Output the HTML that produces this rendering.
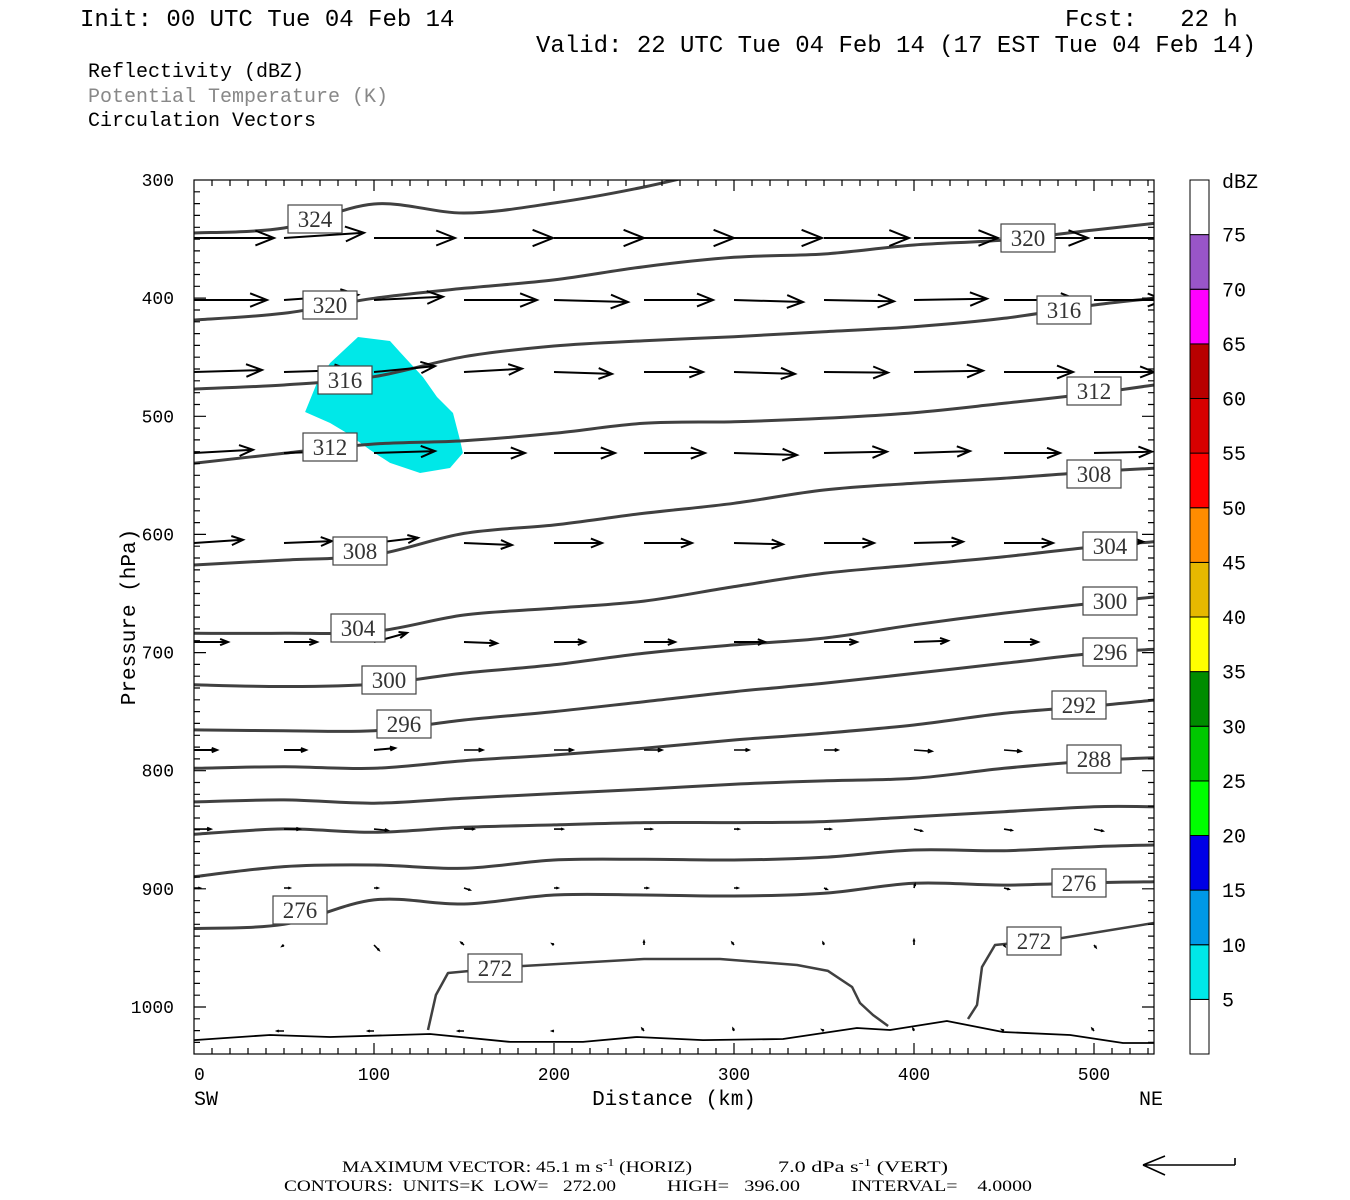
<!DOCTYPE html>
<html><head><meta charset="utf-8"><style>
html,body{margin:0;padding:0;background:#fff;}
svg{display:block;}
text{font-family:"Liberation Mono",monospace;}
.ser{font-family:"Liberation Serif",serif;}
</style></head><body>
<svg id="chart" width="1350" height="1200" viewBox="0 0 1350 1200" xmlns="http://www.w3.org/2000/svg">
<g font-size="24" fill="#000">
<text x="80" y="26">Init: 00 UTC Tue 04 Feb 14</text>
<text x="1065" y="26" xml:space="preserve">Fcst:   22 h</text>
<text x="536" y="52">Valid: 22 UTC Tue 04 Feb 14 (17 EST Tue 04 Feb 14)</text>
</g>
<g font-size="20">
<text x="88" y="77">Reflectivity (dBZ)</text>
<text x="88" y="102" fill="#888">Potential Temperature (K)</text>
<text x="88" y="126">Circulation Vectors</text>
</g>
<defs><clipPath id="plotclip"><rect x="194" y="180" width="960" height="874"/></clipPath></defs>
<g id="plot" clip-path="url(#plotclip)"></g>
<g id="labels"></g>
<rect x="194" y="180" width="960" height="874" fill="none" stroke="#000" stroke-width="1.2"/>
<g id="axes"></g>
<g id="cbar"></g>
<text font-size="21" transform="translate(135,617) rotate(-90)" text-anchor="middle">Pressure (hPa)</text>
<text font-size="21" x="674" y="1105" text-anchor="middle">Distance (km)</text>
<text font-size="20" x="194" y="1105">SW</text>
<text font-size="20" x="1139" y="1105">NE</text>
<g class="ser" font-size="16" fill="#000">
<text class="ser" x="342" y="1172" textLength="350" lengthAdjust="spacingAndGlyphs">MAXIMUM VECTOR:  45.1 m s<tspan dy="-6" font-size="11">-1</tspan><tspan dy="6"> (HORIZ)</tspan></text>
<text class="ser" x="778" y="1172" textLength="170" lengthAdjust="spacingAndGlyphs">7.0 dPa s<tspan dy="-6" font-size="11">-1</tspan><tspan dy="6"> (VERT)</tspan></text>
<text class="ser" x="284" y="1191" textLength="332" lengthAdjust="spacingAndGlyphs" xml:space="preserve">CONTOURS:  UNITS=K  LOW=   272.00</text>
<text class="ser" x="667" y="1191" textLength="133" lengthAdjust="spacingAndGlyphs" xml:space="preserve">HIGH=   396.00</text>
<text class="ser" x="851" y="1191" textLength="181" lengthAdjust="spacingAndGlyphs" xml:space="preserve">INTERVAL=    4.0000</text>
<path d="M1235,1165 L1143,1165 M1143,1165 L1165,1156 M1143,1165 L1165,1175 M1235,1165 L1235,1158" stroke="#000" stroke-width="1.6" fill="none"/>
</g>
</svg>
<script>
// ---- data ----
const distKm = [0,50,100,150,200,250,300,350,400,450,500,533.3];
const thetaLevels = [324,320,316,312,308,304,300,296,292,288,284,280,276];
const p324 = [344.9,340.6,320.3,327.9,319.5,305.9,288,null,null,null,null,null];
const p320 = [418.5,412.8,400.1,391.7,384.6,373.4,365.4,362.6,355,350.8,342.3,336.7];
const p316 = [476.9,473.5,466.5,449.6,440.5,436,432.6,428.4,424.2,417.1,405.8,400.1];
const p312 = [539.8,531.3,523.5,520.7,514.4,505.9,504.6,501.7,497,489,480.5,473.5];
const p308 = [625.9,621.7,617.4,599.1,592,582.1,573.7,562.4,556.7,552.5,546.9,544];
const p304 = [683.7,683.7,682.3,668.2,662.5,656.4,644.2,632.9,625.9,618.9,610.4,606.2];
const p300 = [727.3,728.7,726.8,717.4,710.4,700.5,693.5,687.8,676.5,666.6,658.1,653];
const p296 = [765.5,766.1,766.1,757.1,750,741.6,733.1,726,717.6,709.1,700.6,697.2];
const p292 = [798,796.6,798,791.5,786.7,781,774,768.3,761.3,751.4,745.2,740.2];
const p288 = [826.4,824.7,827.5,823.3,819.4,815.7,811.4,808.6,806.4,798,791.5,789];
const p284 = [853.8,849.3,852.1,847.9,845.9,843.9,843.9,843.1,838.9,834.7,830.5,830.5];
const p280 = [889.7,881.2,879.8,882.6,875.6,875,875.6,873.3,867.1,867.7,864.3,862.9];
const p276 = [933.6,930,909.4,912.8,905.2,905.2,906.1,903.8,895.3,896.8,894.8,894];
const thetaPressures = [p324,p320,p316,p312,p308,p304,p300,p296,p292,p288,p284,p280,p276];
const c272aKm = [130,134.4,141.1,182.8,250,292.2,335,352.2,365.6,370,377.2,385.6];
const c272aP  = [1019.5,989.9,971.2,965.3,959.4,959.4,964.5,969.5,983.1,996.6,1006.8,1016.1];
const c272bKm = [430,435,437.8,445,482.2,533.3];
const c272bP  = [1010.2,998.3,966.2,947.5,941.6,928.9];
const sfcKm = [0,42.2,75.6,131.1,175.6,216.1,246.1,282.8,327.2,368.3,386.7,418.3,449.4,486.7,516.1,533.3];
const sfcP  = [1028,1023.7,1025.4,1022.9,1029.6,1029.6,1025.4,1028,1027.1,1017.8,1019.5,1011.9,1021.2,1023.7,1030.5,1030.5];
const dbzKm = [91.1,108.9,114.4,127.2,135,143.9,147.8,149.4,142.2,125.6,108.9,97.8,85,75.6,61.7,68.3,75.6];
const dbzP  = [432.9,436.3,445.6,466.8,483.7,497.2,520.1,531.1,543.8,548,539.5,528.5,514.2,505.7,496.4,471.8,454.9];
const vecKm = [0,50,100,150,200,250,300,350,400,450,500];
const vecLevels = [349.1,401.6,462.5,531.1,607.3,691.1,782.5,849.4,899.3,947.5,1020.3];
const uRows = [
 [40,40,40.5,44.5,45,45,44,42.5,42,42,42.5],
 [36.5,37,34.5,36.5,37,34.5,34.5,35,36.5,37,35],
 [34,33,30.5,29,29,29.5,30.5,32,34.5,34.5,30],
 [29.5,29.5,30.5,30.5,30.5,30.5,31.5,31.5,28,28,29],
 [24.5,24,22,24,24,24,24.5,25,24.5,24.5,24.5],
 [17,16.5,16.5,16.5,15.5,15.5,15.5,16.5,17,17,18],
 [11.5,11,10.5,9.5,9.5,9,7.5,7,9,8.5,9],
 [8.5,8,7,5,4.5,4,2.5,3.5,4,4,4.5],
 [3,3,2,3,2,2,2,1.5,0.5,2.5,2],
 [0,-1,2.5,-1.5,-1,0,-1,-0.5,0,0.5,1],
 [0,-3.5,-3,-3,-1,-1,-0.5,-1,-0.5,-1,-1]
];
const wRows = [
 [0,-0.4,0,0,0,0,0,0,0,0,0],
 [0,-0.4,-0.25,0,0.15,0,0.15,0.1,-0.1,0,0],
 [-0.15,-0.15,-0.45,-0.25,0.15,0,0.15,0.05,-0.1,0,0],
 [-0.25,-0.15,-0.15,0,0,0,0.15,-0.1,-0.15,0,-0.1],
 [-0.25,-0.15,-0.4,0.15,0,0,0.1,0,-0.1,0,-0.1],
 [0,0,-0.7,0.1,0,0,0,0,-0.1,0,0],
 [0,0,-0.15,0,0,0,0,0,0.1,0.1,0.1],
 [0,0,0.1,0,0,0,0,0,0.15,0.1,0.15],
 [0,0,0,0.15,0,0,0,0.1,-0.3,0.1,0.1],
 [0,0.1,0.4,-0.2,-0.1,-0.3,-0.2,-0.2,-0.4,0.1,0.2],
 [0,0,0,0,0,-0.2,-0.2,-0.1,-0.2,-0.1,-0.2]
];
const xTickLabels = [0,100,200,300,400,500];
const yTickLabels = [300,400,500,600,700,800,900,1000];
const cbarLevels = [5,10,15,20,25,30,35,40,45,50,55,60,65,70,75];
const cbarColors = ['#ffffff','#00e8e8','#0099e6','#0000e6','#00ff00','#00c800','#008c00','#ffff00','#e6b800','#ff8c00','#ff0000','#d70000','#b80000','#ff00ff','#9955c8','#ffffff'];

const X0=194, X1=1154, Y0=180, Y1=1054;
const KMAX=(X1-X0)/1.8, PTOP=300, PBOT=300+(Y1-Y0)/1.1814;
function xs(km){return X0+(km/KMAX)*(X1-X0);}
function ys(p){return Y0+(p-PTOP)/(PBOT-PTOP)*(Y1-Y0);}
const NS='http://www.w3.org/2000/svg';
function mk(tag,parent,attrs){const e=document.createElementNS(NS,tag);for(const k in attrs)e.setAttribute(k,attrs[k]);parent.appendChild(e);return e;}
function smoothPath(pts){
 if(pts.length<2) return '';
 let d='M'+pts[0][0].toFixed(1)+','+pts[0][1].toFixed(1);
 for(let i=0;i<pts.length-1;i++){
  const p0=pts[Math.max(0,i-1)],p1=pts[i],p2=pts[i+1],p3=pts[Math.min(pts.length-1,i+2)];
  const c1x=p1[0]+(p2[0]-p0[0])/6,c1y=p1[1]+(p2[1]-p0[1])/6;
  const c2x=p2[0]-(p3[0]-p1[0])/6,c2y=p2[1]-(p3[1]-p1[1])/6;
  d+=`C${c1x.toFixed(1)},${c1y.toFixed(1)} ${c2x.toFixed(1)},${c2y.toFixed(1)} ${p2[0].toFixed(1)},${p2[1].toFixed(1)}`;
 }
 return d;
}

const plot=document.getElementById('plot');
{
 let pts=dbzKm.map((k,i)=>xs(k).toFixed(1)+','+ys(dbzP[i]).toFixed(1)).join(' ');
 const poly=mk('polygon',plot,{points:pts,fill:'#00e8e8',stroke:'none'});
 
 
}
thetaLevels.forEach((lev,li)=>{
 const arr=thetaPressures[li];const pts=[];
 arr.forEach((p,i)=>{if(p!=null)pts.push([xs(distKm[i]),ys(p)]);});
 const path=mk('path',plot,{d:smoothPath(pts),fill:'none',stroke:'#404040','stroke-width':3,'stroke-linejoin':'round'});
 
 
});
function line(kms,ps,name,color,w){
 const d=kms.map((k,i)=>(i?'L':'M')+xs(k).toFixed(1)+','+ys(ps[i]).toFixed(1)).join('');
 const path=mk('path',plot,{d:d,fill:'none',stroke:color,'stroke-width':w,'stroke-linejoin':'round'});
 
 
}
line(c272aKm,c272aP,'theta-contour-272-west','#404040',2.5);
line(c272bKm,c272bP,'theta-contour-272-east','#404040',2.5);
line(sfcKm,sfcP,'surface-contour','#000',1.8);
const USCALE=2.0, WSCALE=13;
vecLevels.forEach((p,ri)=>{
 vecKm.forEach((k,ci)=>{
  const u=uRows[ri][ci], w=wRows[ri][ci];
  const dx=u*USCALE, dy=w*WSCALE;
  const L=Math.hypot(dx,dy); if(L<0.5) return;
  const x0=xs(k), y0=ys(p), x1=x0+dx, y1=y0+dy;
  const h=Math.min(22,Math.max(2,L*0.25)), a=Math.atan2(dy,dx), sp=0.38;
  const hx1=x1-h*Math.cos(a-sp), hy1=y1-h*Math.sin(a-sp);
  const hx2=x1-h*Math.cos(a+sp), hy2=y1-h*Math.sin(a+sp);
  const d=`M${x0.toFixed(1)},${y0.toFixed(1)}L${x1.toFixed(1)},${y1.toFixed(1)}M${hx1.toFixed(1)},${hy1.toFixed(1)}L${x1.toFixed(1)},${y1.toFixed(1)}L${hx2.toFixed(1)},${hy2.toFixed(1)}`;
  const v=mk('path',plot,{d:d,fill:'none',stroke:'#000','stroke-width':L>20?2:1.6});
  
  
 });
});
const labelSpots=[[324,315,219],[320,330,305],[316,345,380],[312,330,447],[308,360,551],[304,358,628],[300,389,680],[296,404,724],[276,300,910],[272,495,968],
 [320,1028,238],[316,1064,310],[312,1094,391],[308,1094,474],[304,1110,546],[300,1110,601],[296,1110,652],[292,1079,705],[288,1094,759],[276,1079,883],[272,1034,941]];
const lab=document.getElementById('labels');
labelSpots.forEach(s=>{
 const g=mk('g',lab,{});
 
 
 mk('rect',g,{x:s[1]-27,y:s[2]-14,width:54,height:28,fill:'#fff',stroke:'#444','stroke-width':1.2});
 const t=mk('text',g,{x:s[1],y:s[2]+8,'text-anchor':'middle','font-size':23,fill:'#333',class:'ser'});
 t.setAttribute('style','font-family:"Liberation Serif",serif');
 t.textContent=s[0];
});
const ax=document.getElementById('axes');
let td='';
for(let k=10;k<KMAX;k+=10){const x=xs(k).toFixed(1);const L=(k%100===0)?11:6;td+=`M${x},${Y1}v${-L}M${x},${Y0}v${L}`;}
for(let p=310;p<PBOT;p+=10){const y=ys(p).toFixed(1);const L=(p%100===0)?12:6;td+=`M${X0},${y}h${L}M${X1},${y}h${-L}`;}
const tk=mk('path',ax,{d:td,stroke:'#000','stroke-width':1.2,fill:'none'});


xTickLabels.forEach(v=>{
 const t=mk('text',ax,{x:xs(v),y:1080,'text-anchor':v===0?'start':'middle','font-size':18});
 
 
 t.textContent=v;
});
yTickLabels.forEach(v=>{
 const t=mk('text',ax,{x:174,y:ys(v)+6,'text-anchor':'end','font-size':18});
 
 
 t.textContent=v;
});
const cb=document.getElementById('cbar');
const CBX=1190,CBW=19,CBTOP=180,CBBOT=1054,seg=(CBBOT-CBTOP)/cbarColors.length;
cbarColors.forEach((c,i)=>{
 const r=mk('rect',cb,{x:CBX,y:(CBBOT-(i+1)*seg).toFixed(1),width:CBW,height:seg.toFixed(1),fill:c,stroke:'#000','stroke-width':1});
 
 
});
cbarLevels.forEach((v,i)=>{
 const t=mk('text',cb,{x:1222,y:(CBBOT-(i+1)*seg+7).toFixed(1),'font-size':20});
 
 
 t.textContent=v;
});
{const t=mk('text',cb,{x:1222,y:188,'font-size':20});
 
 
 t.textContent='dBZ';}
</script>
</body></html>
